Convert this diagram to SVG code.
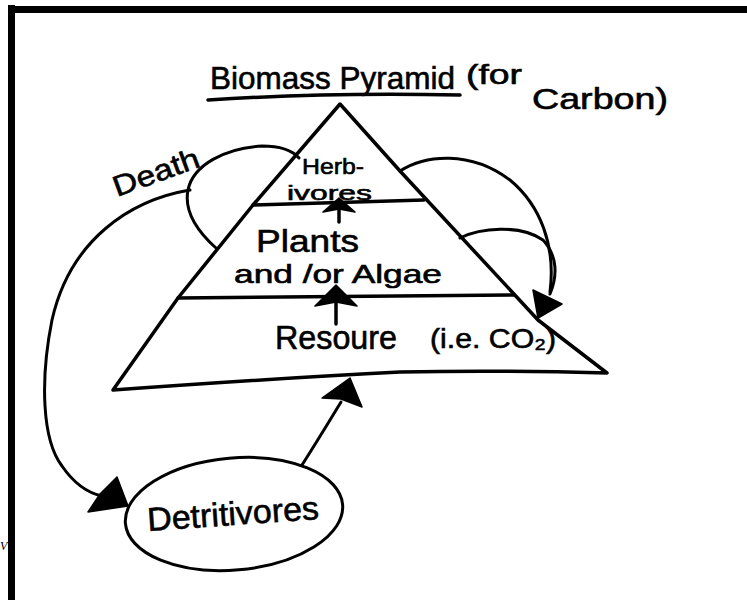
<svg xmlns="http://www.w3.org/2000/svg" width="747" height="600" viewBox="0 0 747 600">
  <style>
    .ln { fill: none; stroke: #000; stroke-width: 3.5; stroke-linecap: round; stroke-linejoin: round; }
    .arc { fill: none; stroke: #000; stroke-width: 3; stroke-linecap: round; }
    .head { fill: #000; stroke: #000; stroke-width: 1.5; stroke-linejoin: round; }
    .t { font-family: "Liberation Sans", Arial, sans-serif; fill: #000; stroke: #000; stroke-width: 0.6; }
  </style>
  <rect x="0" y="0" width="747" height="600" fill="#fff"/>
  <g id="frame">
    <rect x="8" y="5" width="7" height="595" fill="#000"/>
    <rect x="8" y="6" width="739" height="7" fill="#000"/>
    <text x="0" y="550" font-family="'Liberation Serif', serif" font-style="italic" font-size="12" fill="#000">V</text>
  </g>
  <g id="title">
    <text class="t" x="210" y="89" font-size="32" textLength="245" lengthAdjust="spacingAndGlyphs">Biomass Pyramid</text>
    <text class="t" x="466" y="84" font-size="27" textLength="56" lengthAdjust="spacingAndGlyphs">(for</text>
    <text class="t" x="532" y="109" font-size="29" textLength="136" lengthAdjust="spacingAndGlyphs">Carbon)</text>
    <path class="ln" d="M208,100 Q330,92 460,95"/>
  </g>
  <g id="pyramid">
    <path class="ln" d="M113,390 L178,298 L253,205 L340,104 L400,171 L538,320 L607,373 Q500,370 400,372 Q280,378 113,390 Z"/>
    <path class="ln" d="M253,205 L424,200"/>
    <path class="ln" d="M178,298 L514,295"/>
  </g>
  <g id="herbivores">
    <text class="t" x="302" y="174" font-size="22" textLength="62" lengthAdjust="spacingAndGlyphs">Herb-</text>
    <text class="t" x="287" y="200" font-size="21" textLength="85" lengthAdjust="spacingAndGlyphs">ivores</text>
  </g>
  <g id="plants">
    <text class="t" x="256" y="252" font-size="31" textLength="103" lengthAdjust="spacingAndGlyphs">Plants</text>
    <text class="t" x="234" y="283" font-size="25" textLength="208" lengthAdjust="spacingAndGlyphs">and /or Algae</text>
  </g>
  <g id="resource">
    <text class="t" x="275" y="349" font-size="33" textLength="122" lengthAdjust="spacingAndGlyphs">Resoure</text>
    <text class="t" x="430" y="348" font-size="27" textLength="126" lengthAdjust="spacingAndGlyphs">(i.e. CO₂)</text>
  </g>
  <g id="detritivores">
    <ellipse cx="234" cy="514" rx="109" ry="56" transform="rotate(-5 234 514)" fill="none" stroke="#000" stroke-width="3"/>
    <text class="t" x="148" y="531" font-size="33" textLength="172" lengthAdjust="spacingAndGlyphs" transform="rotate(-4 148 531)">Detritivores</text>
  </g>
  <g id="connectors">
    <path class="ln" d="M339,222 L339,208"/>
    <path class="head" d="M339,198 L355,212 L339,209 L323,212 Z"/>
    <path class="ln" d="M336,324 L336,302"/>
    <path class="head" d="M336,285 L357,306 L336,302 L315,306 Z"/>
    <path class="arc" d="M302,465 C318,440 330,420 341,402"/>
    <path class="head" d="M350,378 L362,407 L341,399 L322,398 Z"/>
    <path class="arc" d="M216,248 C196,230 184,210 188,190 C193,165 225,148 262,146 C280,146 292,150 299,158"/>
    <path class="arc" d="M190,190 C130,200 70,240 52,320 C40,380 42,440 62,466 C75,485 88,493 102,496"/>
    <path class="head" d="M128,506 L117,477 L100,494 L88,512 Z"/>
    <text class="t" x="117" y="197" font-size="29" textLength="90" lengthAdjust="spacingAndGlyphs" transform="rotate(-20 117 197)">Death</text>
    <path class="arc" d="M400,171 C425,155 470,150 510,180 C540,205 556,245 550,292"/>
    <path class="arc" d="M460,238 C480,228 520,224 543,240 C557,255 558,275 550,294"/>
    <path class="head" d="M533,290 L562,304 L538,318 Z"/>
  </g>
</svg>
